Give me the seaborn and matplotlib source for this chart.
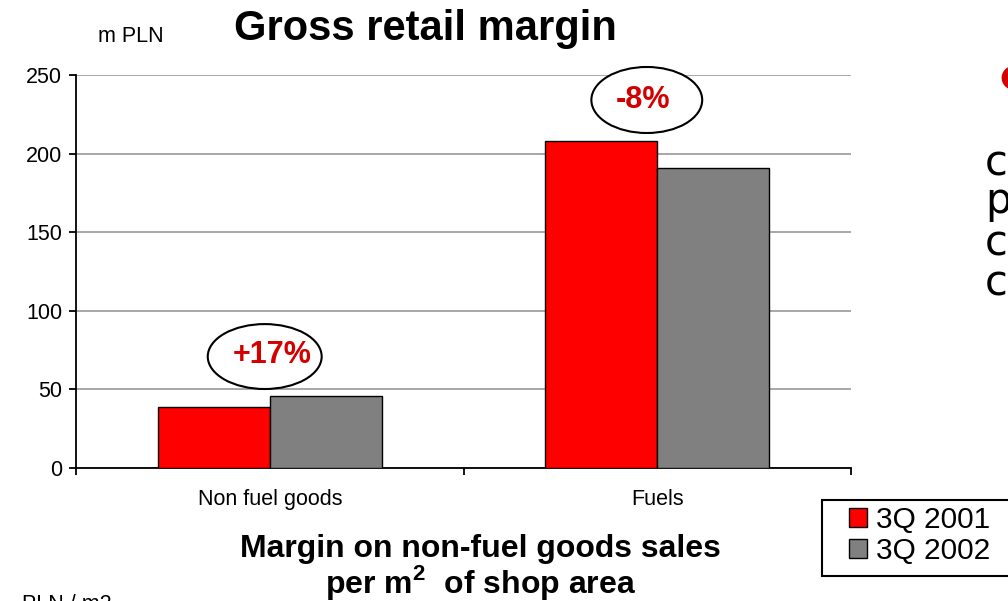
import matplotlib
matplotlib.use("Agg")
import matplotlib.pyplot as plt
from matplotlib.patches import Ellipse, Patch, Rectangle
import seaborn as sns
import pandas as pd

# Gross retail margin, m PLN
categories = ["Non fuel goods", "Fuels"]
periods = ["3Q 2001", "3Q 2002"]
margin_2001 = [39, 208]
margin_2002 = [45.6, 191]
change_labels = ["+17%", "-8%"]
y_ticks = [0, 50, 100, 150, 200, 250]

colors = ["#FF0000", "#808080"]
label_red = "#D40000"

df = pd.DataFrame({
    "category": categories * 2,
    "period": [periods[0]] * 2 + [periods[1]] * 2,
    "margin": margin_2001 + margin_2002,
})

sns.set_theme(style="white")
plt.rcParams["font.family"] = ["Liberation Sans", "DejaVu Sans"]
plt.rcParams["text.color"] = "black"
plt.rcParams["xtick.labelcolor"] = "black"
plt.rcParams["ytick.labelcolor"] = "black"
plt.rcParams["mathtext.fontset"] = "custom"
plt.rcParams["mathtext.bf"] = "Liberation Sans:bold"
plt.rcParams["mathtext.rm"] = "Liberation Sans"

fig = plt.figure(figsize=(10.08, 6.01), dpi=100)
W, H = 1008, 601
ax = fig.add_axes([76 / W, 1 - 468 / H, (851 - 76) / W, (468 - 75) / H])

sns.barplot(data=df, x="category", y="margin", hue="period",
            order=categories, hue_order=periods, palette=colors,
            saturation=1, width=0.577, edgecolor="black", linewidth=1.0,
            legend=False, ax=ax, zorder=3)

ax.set_xlim(-0.5, 1.5)
ax.set_ylim(0, 250)
ax.set_yticks(y_ticks)
ax.set_yticklabels([str(v) for v in y_ticks], fontsize=15.5)
ax.set_xticks(range(len(categories)))
ax.set_xticklabels(categories, fontsize=15.5)
ax.set_xticks([-0.5, 0.5, 1.5], minor=True)
ax.set_xlabel("")
ax.set_ylabel("")

ax.yaxis.grid(True, color="#A0A0A0", linewidth=1.3, zorder=0)
ax.xaxis.grid(False)
ax.set_axisbelow(True)
for side in ["top", "right"]:
    ax.spines[side].set_visible(False)
for side in ["left", "bottom"]:
    ax.spines[side].set_color("black")
    ax.spines[side].set_linewidth(1.3)

ax.tick_params(axis="y", which="major", direction="out", length=5,
               width=1.3, color="black", pad=5, left=True)
ax.tick_params(axis="x", which="major", length=0, pad=15)
ax.tick_params(axis="x", which="minor", direction="out", length=5,
               width=1.3, color="black", bottom=True)

# Percentage change callouts
callouts = [
    (0.005, 72, -0.013, 70.9, 0.294, 41.3),
    (0.963, 234, 0.973, 234.1, 0.286, 42.0),
]
for label, (tx, ty, ex, ey, ew, eh) in zip(change_labels, callouts):
    ax.add_patch(Ellipse((ex, ey), ew, eh, facecolor="white",
                         edgecolor="black", linewidth=1.5,
                         clip_on=False, zorder=5))
    ax.text(tx, ty, label, ha="center", va="center", fontsize=22,
            fontweight="bold", color=label_red, zorder=6, clip_on=False)

# Headings and captions
fig.text(425 / W, 1 - 29 / H, "Gross retail margin", ha="center",
         va="center", fontsize=30, fontweight="bold")
fig.text(98 / W, 1 - 37 / H, "m PLN", ha="left", va="center",
         fontsize=15.5)
fig.text(480 / W, 1 - 549 / H, "Margin on non-fuel goods sales",
         ha="center", va="center", fontsize=23, fontweight="bold")
fig.text(481 / W, 1 - 583 / H, r"per m$^{\mathbf{2}}$  of shop area",
         ha="center", va="center", fontsize=23, fontweight="bold")
fig.text(22 / W, 1 - 594 / H, "PLN / m2", ha="left", va="top",
         fontsize=15.5)

# Side notes
fig.text(999 / W, 1 - 77 / H, "\u25cf", ha="left", va="center",
         fontsize=22, color=label_red, family="DejaVu Sans")
for letter, y in zip(["c", "p", "c", "c"], [175, 213, 255, 295]):
    fig.text(985 / W, 1 - y / H, letter, ha="left", va="baseline",
             fontsize=30, family="DejaVu Sans")

# Series key with its box
fig.patches.append(Rectangle((822 / W, 1 - 576 / H), (1030 - 822) / W,
                             76 / H, transform=fig.transFigure,
                             facecolor="white", edgecolor="black",
                             linewidth=1.5, zorder=0))
handles = [Patch(facecolor=c, edgecolor="black", linewidth=1.0)
           for c in colors]
fig.legend(handles, periods, loc="upper left",
           bbox_to_anchor=(849 / W, 1 - 506 / H), fontsize=21.5,
           frameon=False, handlelength=0.6, handleheight=0.6,
           handletextpad=0.3, borderpad=0, labelspacing=0.1,
           borderaxespad=0)

fig.savefig("out.png", dpi=100)
